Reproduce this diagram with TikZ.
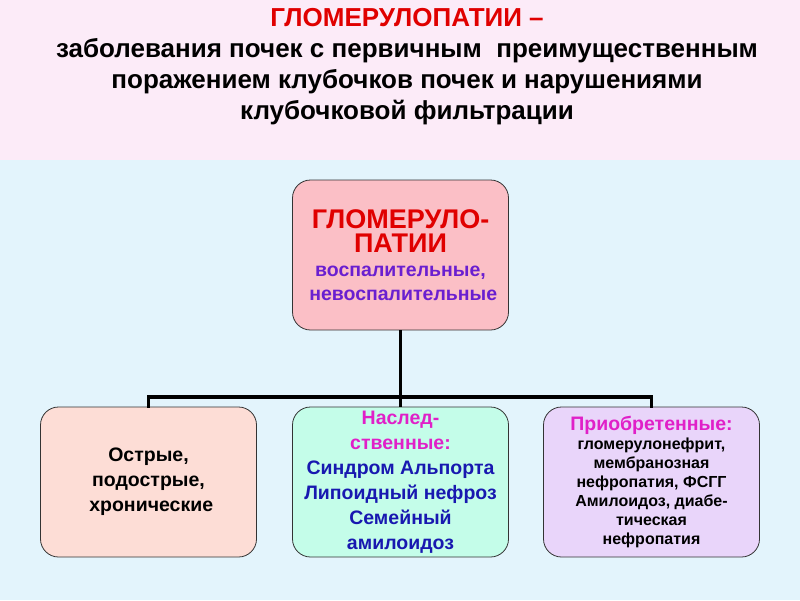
\documentclass[tikz,border=0pt]{standalone}
\usepackage{fontspec}
\setmainfont{Liberation Sans}
\definecolor{toppink}{HTML}{FCEBF8}
\definecolor{botblue}{HTML}{E3F4FC}
\definecolor{boxpink}{HTML}{FBBFC6}
\definecolor{peach}{HTML}{FDDDD6}
\definecolor{mint}{HTML}{C4FDE9}
\definecolor{lav}{HTML}{E9D5FA}
\definecolor{titred}{HTML}{E00000}
\definecolor{violet1}{HTML}{6A1FD0}
\definecolor{mag}{HTML}{E020C8}
\definecolor{blu}{HTML}{1818B0}
\begin{document}
\begin{tikzpicture}[x=1pt,y=-1pt,
  box/.style={draw=black!80,line width=0.8pt,rounded corners=18pt,minimum width=216pt,minimum height=150pt,align=center,inner sep=1pt},
  conn/.style={line width=3.5pt}]
\fill[toppink] (0,0) rectangle (800,160);
\fill[botblue] (0,160) rectangle (800,600);
\useasboundingbox (0,0) rectangle (800,600);
\node (title) [align=center,font=\bfseries\fontsize{26}{31}\selectfont] at (407,67)
 {\textcolor{titred}{ГЛОМЕРУЛОПАТИИ –}\\ заболевания почек с первичным\ \ преимущественным\\ поражением клубочков почек и нарушениями\\ клубочковой фильтрации};
\node (top) [box,fill=boxpink,font=\bfseries\fontsize{19.5}{24}\selectfont] at (400.5,255) {{\fontsize{27}{30}\selectfont\textcolor{titred}{ГЛОМЕРУЛО-}}\\{\fontsize{27}{30}\selectfont\textcolor{titred}{ПАТИИ}}\\\textcolor{violet1}{воспалительные,}\\\textcolor{violet1}{\ невоспалительные}};
\node (a) [box,fill=peach,font=\bfseries\fontsize{19.5}{25}\selectfont] at (148.5,482) {Острые,\\ подострые,\\ \ хронические};
\node (b) [box,fill=mint,font=\bfseries\fontsize{19.5}{25}\selectfont] at (400.5,482) {\textcolor{mag}{Наслед-}\\\textcolor{mag}{ственные:}\\\textcolor{blu}{Синдром Альпорта}\\\textcolor{blu}{Липоидный нефроз}\\\textcolor{blu}{Семейный}\\\textcolor{blu}{амилоидоз}};
\node (c) [box,fill=lav,font=\bfseries\fontsize{16}{19}\selectfont] at (651.5,482) {{\fontsize{19.5}{22}\selectfont\textcolor{mag}{Приобретенные:}}\\гломерулонефрит,\\мембранозная\\нефропатия, ФСГГ\\Амилоидоз, диабе-\\тическая\\нефропатия};
\coordinate (j) at (400.5,397);
\draw[conn] (top.south) -- (j);
\draw[conn,line cap=rect] (a.north) -- (a.north|-j) -- (c.north|-j) -- (c.north);
\draw[conn] (j) -- (b.north);
\end{tikzpicture}
\end{document}
